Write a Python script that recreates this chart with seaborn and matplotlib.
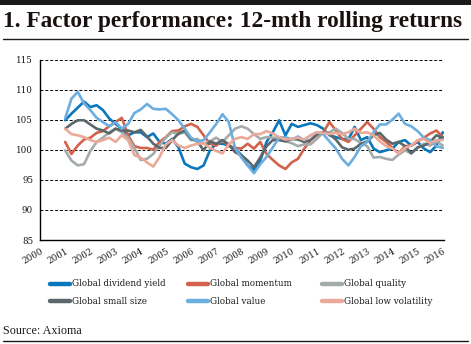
import numpy as np
import pandas as pd
import matplotlib
matplotlib.use("Agg")
import matplotlib.pyplot as plt
import seaborn as sns
from matplotlib.lines import Line2D

# Quarterly observations, 2001 Q1 .. 2016 Q1 (12-month rolling returns, index)
dates = np.arange(2001.0, 2016.001, 0.25)

dividend_yield = [104.9, 106.0, 107.0, 108.0, 107.1, 107.4, 106.6, 105.2, 104.3, 103.5,
                  102.4, 102.9, 102.9, 102.1, 102.7, 101.3, 101.0, 101.8, 100.4, 97.7,
                  97.1, 96.8, 97.4, 99.9, 101.0, 101.0, 100.7, 100.2, 99.1, 97.4,
                  96.6, 98.2, 101.3, 102.9, 104.9, 102.4, 104.3, 103.8, 104.1, 104.4,
                  104.1, 103.5, 102.4, 102.1, 101.8, 101.7, 103.8, 101.6, 102.1, 100.2,
                  99.6, 99.9, 100.2, 101.3, 101.6, 100.7, 101.3, 100.2, 99.6, 100.7,
                  102.9]
momentum = [101.3, 99.3, 100.7, 101.7, 102.0, 102.8, 103.1, 103.9, 104.6, 105.3,
            102.4, 100.6, 100.3, 100.3, 100.0, 101.3, 102.1, 103.1, 103.2, 103.9,
            104.3, 103.8, 102.4, 101.0, 100.7, 101.6, 100.6, 100.3, 100.2, 101.0,
            100.2, 101.3, 99.3, 98.3, 97.4, 96.8, 97.9, 98.5, 100.2, 101.6,
            102.4, 102.9, 104.6, 103.2, 101.8, 101.3, 102.4, 103.5, 104.6, 103.5,
            102.1, 101.3, 100.3, 99.4, 100.6, 100.7, 101.4, 102.0, 102.7, 103.2,
            102.1]
quality = [99.9, 98.2, 97.4, 97.6, 99.8, 101.3, 102.0, 102.9, 103.5, 102.9,
           102.0, 100.3, 98.3, 98.5, 99.3, 100.7, 102.0, 102.9, 102.6, 102.9,
           101.6, 101.8, 101.0, 101.4, 102.0, 101.3, 102.4, 103.5, 103.9, 103.5,
           102.6, 101.8, 102.1, 102.0, 102.0, 101.4, 101.1, 100.6, 100.9, 100.9,
           101.8, 102.9, 102.9, 103.5, 102.8, 101.8, 101.8, 101.1, 100.6, 98.7,
           98.8, 98.5, 98.3, 99.2, 99.9, 99.4, 100.3, 101.0, 100.7, 101.4,
           100.7]
small_size = [103.5, 104.3, 104.9, 104.9, 104.2, 103.5, 103.2, 102.7, 103.5, 103.2,
              103.2, 102.9, 103.3, 102.2, 101.0, 100.3, 100.3, 101.6, 102.7, 103.2,
              101.8, 101.4, 99.9, 101.4, 101.0, 101.6, 100.9, 99.6, 99.1, 98.2,
              97.1, 98.7, 100.6, 101.6, 101.6, 101.4, 101.8, 101.7, 101.3, 101.6,
              102.6, 102.9, 102.6, 101.7, 100.4, 100.0, 100.2, 101.0, 101.4, 102.4,
              102.8, 101.7, 101.0, 101.3, 100.6, 99.4, 100.4, 100.7, 101.3, 102.4,
              102.0]
value = [105.2, 108.5, 109.6, 107.7, 106.6, 105.3, 104.6, 103.9, 104.6, 103.5,
         104.3, 106.1, 106.7, 107.6, 106.8, 106.7, 106.8, 105.9, 104.9, 103.5,
         102.0, 101.4, 101.6, 102.9, 104.3, 105.9, 104.6, 100.3, 98.7, 97.4,
         96.1, 97.6, 98.8, 100.4, 102.0, 102.1, 101.7, 102.2, 101.6, 102.4,
         102.9, 102.6, 101.4, 100.2, 98.5, 97.4, 98.8, 100.6, 101.3, 102.9,
         104.2, 104.2, 105.0, 106.0, 104.3, 103.9, 103.1, 102.0, 101.6, 100.6,
         100.3]
low_volatility = [103.5, 102.6, 102.4, 102.1, 101.6, 101.3, 101.6, 102.0, 101.3, 102.4,
                  101.6, 99.1, 98.7, 97.9, 97.2, 98.8, 100.9, 101.6, 100.7, 100.3,
                  100.7, 101.0, 101.1, 100.3, 99.8, 99.4, 100.9, 101.8, 102.1, 101.8,
                  102.6, 102.6, 103.1, 102.7, 102.1, 101.7, 101.8, 102.0, 101.7, 102.4,
                  102.9, 102.8, 102.6, 102.8, 102.6, 102.9, 103.5, 102.8, 102.9, 102.4,
                  101.4, 100.6, 100.2, 99.4, 100.3, 100.7, 101.6, 101.8, 101.1, 101.6,
                  101.6]

series_names = ["Global dividend yield", "Global momentum", "Global quality",
                "Global small size", "Global value", "Global low volatility"]
series_values = [dividend_yield, momentum, quality, small_size, value, low_volatility]
colors = ["#0A77BD", "#D2624B", "#A4ABAB", "#5A686C", "#6CAEDF", "#EBAA99"]

year_ticks = list(range(2000, 2017))
y_ticks = [85, 90, 95, 100, 105, 110, 115]

frames = [pd.DataFrame({"date": dates, "value": vals, "factor": name})
          for name, vals in zip(series_names, series_values)]
df = pd.concat(frames, ignore_index=True)

sns.set_style("white")
plt.rcParams["font.family"] = ["DejaVu Serif"]

W, H = 471, 344
fig = plt.figure(figsize=(W / 100, H / 100), dpi=100)
ax = fig.add_axes([40 / W, 1 - 240 / H, 404 / W, 180.5 / H])

palette = dict(zip(series_names, colors))
sns.lineplot(data=df, x="date", y="value", hue="factor", palette=palette,
             hue_order=series_names, linewidth=1.9, ax=ax, legend=False)

ax.set_xlim(2000, 2016.05)
ax.set_ylim(85, 115)
ax.set_xticks(year_ticks)
ax.set_xticklabels([str(y) for y in year_ticks], rotation=30, ha="right",
                   rotation_mode="anchor", fontsize=6.3, color="#1a1a1a")
ax.set_yticks(y_ticks)
ax.set_yticklabels([str(v) for v in y_ticks], fontsize=6.3, color="#1a1a1a")
ax.tick_params(axis="x", length=3, width=0.8, color="black", pad=2, direction="out")
ax.tick_params(axis="y", length=3, width=0.8, color="black", pad=2, direction="out")
ax.set_xlabel("")
ax.set_ylabel("")

for v in y_ticks[1:]:
    ax.axhline(v, color="black", linewidth=0.7, linestyle=(0, (3, 2)), zorder=0)

for side in ["top", "right"]:
    ax.spines[side].set_visible(False)
for side in ["left", "bottom"]:
    ax.spines[side].set_color("black")
    ax.spines[side].set_linewidth(1.0)
ax.set_facecolor("white")

# Legend: two rows of three entries
col_x = [50, 188, 322]
row_y = [284, 301]
for i, (name, c) in enumerate(zip(series_names, colors)):
    r, k = divmod(i, 3)
    x0, y0 = col_x[k], row_y[r]
    fig.add_artist(Line2D([x0 / W, (x0 + 20) / W], [1 - y0 / H, 1 - y0 / H],
                          transform=fig.transFigure, color=c, lw=3.2,
                          solid_capstyle="round"))
    fig.text((x0 + 22) / W, 1 - y0 / H, name, fontsize=6.3, color="#1a1a1a",
             va="center", ha="left")

# Header band, title and rules
fig.add_artist(plt.Rectangle((0, 1 - 5 / H), 1, 5 / H, transform=fig.transFigure,
                             color="#1a1a1a", lw=0))
fig.text(3 / W, 1 - 22 / H, "1. Factor performance: 12-mth rolling returns",
         fontsize=16.8, fontweight="bold", color="#1a1010", va="center", ha="left",
         family="Liberation Serif")
fig.add_artist(Line2D([3 / W, 468 / W], [1 - 39 / H, 1 - 39 / H],
                      transform=fig.transFigure, color="#1a1a1a", lw=1.0))
fig.text(3 / W, 1 - 331 / H, "Source: Axioma", fontsize=8.7, color="#1a1a1a",
         va="center", ha="left", family="Liberation Serif")
fig.add_artist(Line2D([3 / W, 468 / W], [1 - 341 / H, 1 - 341 / H],
                      transform=fig.transFigure, color="#1a1a1a", lw=1.0))

fig.savefig("out.png", dpi=100, facecolor="white")
